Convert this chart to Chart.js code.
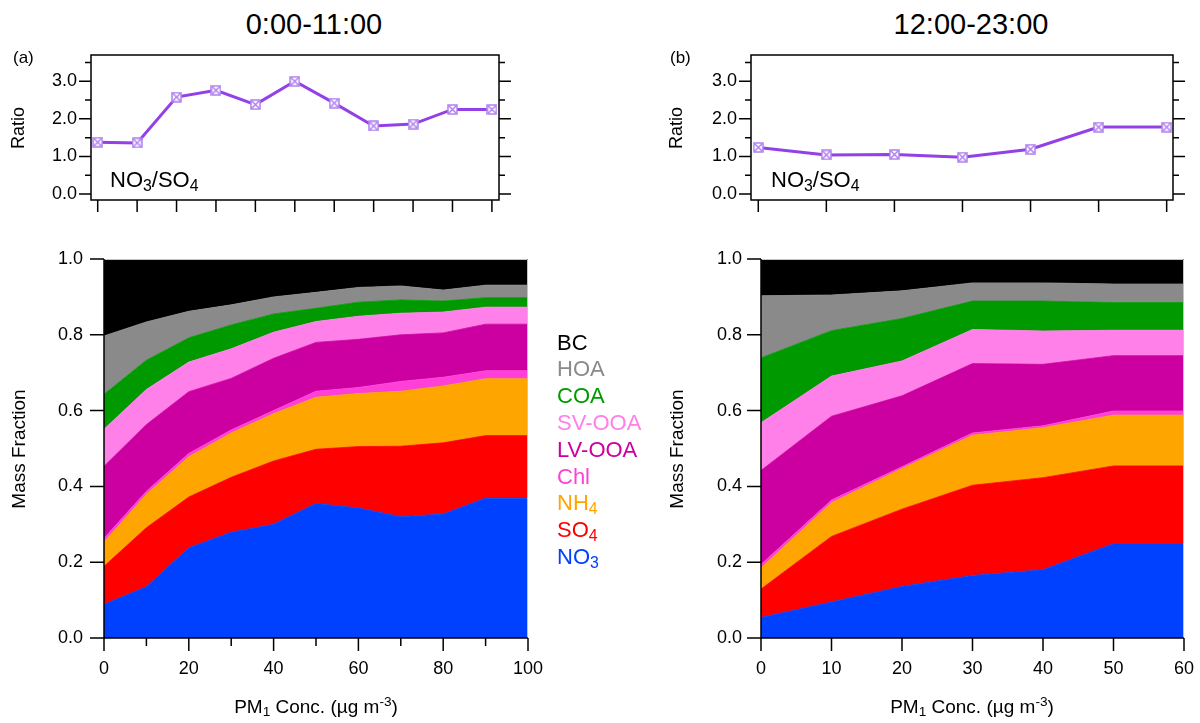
<!DOCTYPE html>
<html>
<head>
<meta charset="utf-8">
<script src="https://cdn.jsdelivr.net/npm/chart.js@4.4.1/dist/chart.umd.min.js"></script>
<style>
body { margin: 0; background: #fff; font-family: "Liberation Sans", Arial, sans-serif; }
#page { position: relative; width: 1200px; height: 723px; overflow: hidden; }
canvas { position: absolute; }
.t { position: absolute; white-space: nowrap; line-height: 1; color: #000; }
.c { transform: translate(-50%, -50%); }
.l { transform: translateY(-50%); }
.rot { transform: translate(-50%, -50%) rotate(-90deg); }
sub { font-size: 0.72em; vertical-align: -0.28em; line-height: 0; }
sup { font-size: 0.72em; vertical-align: 0.5em; line-height: 0; }
</style>
</head>
<body>
<div id="page">
  <canvas id="ratioA" width="560" height="180" style="left:0;top:40px"></canvas>
  <canvas id="ratioB" width="540" height="180" style="left:660px;top:40px"></canvas>
  <canvas id="fracA" width="560" height="493" style="left:0;top:230px"></canvas>
  <canvas id="fracB" width="540" height="493" style="left:660px;top:230px"></canvas>

  <div class="t c" style="left:314px;top:24px;font-size:29px">0:00-11:00</div>
  <div class="t c" style="left:971px;top:24px;font-size:29px">12:00-23:00</div>
  <div class="t l" style="left:13px;top:57px;font-size:17px">(a)</div>
  <div class="t l" style="left:670px;top:57px;font-size:17px">(b)</div>

  <div class="t rot" style="left:18px;top:128px;font-size:18px">Ratio</div>
  <div class="t rot" style="left:676px;top:128px;font-size:18px">Ratio</div>
  <div class="t rot" style="left:18px;top:449px;font-size:19px">Mass Fraction</div>
  <div class="t rot" style="left:676px;top:449px;font-size:19px">Mass Fraction</div>

  <div class="t l" style="left:110px;top:180px;font-size:22px">NO<sub>3</sub>/SO<sub>4</sub></div>
  <div class="t l" style="left:771px;top:180px;font-size:22px">NO<sub>3</sub>/SO<sub>4</sub></div>

  <div class="t c" style="left:316px;top:706px;font-size:19px">PM<sub>1</sub> Conc. (µg m<sup>-3</sup>)</div>
  <div class="t c" style="left:972px;top:706px;font-size:19px">PM<sub>1</sub> Conc. (µg m<sup>-3</sup>)</div>

  <div id="legend"></div>
</div>

<script>
// valori
const x_a = [0, 10, 20, 30, 40, 50, 60, 70, 80, 90, 100];
const x_b = [0, 10, 20, 30, 40, 50, 60];

const ratio_a = [1.38, 1.36, 2.58, 2.76, 2.38, 3.00, 2.42, 1.81, 1.86, 2.25, 2.25];
const ratio_b = [1.24, 1.04, 1.05, 0.98, 1.19, 1.78, 1.78];

// fractii masice (a) 0:00-11:00
const a_NO3 = [0.089, 0.135, 0.238, 0.279, 0.300, 0.355, 0.343, 0.320, 0.327, 0.369, 0.369];
const a_SO4 = [0.100, 0.156, 0.134, 0.145, 0.167, 0.143, 0.162, 0.186, 0.188, 0.165, 0.165];
const a_NH4 = [0.064, 0.088, 0.106, 0.117, 0.125, 0.137, 0.140, 0.145, 0.150, 0.150, 0.150];
const a_Chl = [0.010, 0.008, 0.009, 0.008, 0.008, 0.016, 0.016, 0.026, 0.023, 0.021, 0.021];
const a_LVOOA = [0.190, 0.176, 0.163, 0.136, 0.138, 0.129, 0.127, 0.123, 0.117, 0.123, 0.123];
const a_SVOOA = [0.098, 0.093, 0.078, 0.078, 0.069, 0.055, 0.061, 0.057, 0.055, 0.045, 0.045];
const a_COA = [0.092, 0.077, 0.064, 0.063, 0.048, 0.035, 0.037, 0.035, 0.029, 0.025, 0.025];
const a_HOA = [0.154, 0.101, 0.070, 0.053, 0.045, 0.042, 0.039, 0.037, 0.029, 0.033, 0.033];
const a_BC = [0.203, 0.166, 0.138, 0.121, 0.100, 0.088, 0.075, 0.071, 0.082, 0.069, 0.069];

// fractii masice (b) 12:00-23:00
const b_NO3 = [0.054, 0.095, 0.136, 0.165, 0.180, 0.249, 0.249];
const b_SO4 = [0.075, 0.173, 0.204, 0.238, 0.243, 0.205, 0.205];
const b_NH4 = [0.056, 0.089, 0.107, 0.132, 0.132, 0.134, 0.134];
const b_Chl = [0.009, 0.007, 0.005, 0.006, 0.005, 0.011, 0.011];
const b_LVOOA = [0.248, 0.221, 0.187, 0.183, 0.162, 0.146, 0.146];
const b_SVOOA = [0.126, 0.106, 0.092, 0.090, 0.088, 0.067, 0.067];
const b_COA = [0.171, 0.120, 0.112, 0.075, 0.079, 0.073, 0.073];
const b_HOA = [0.164, 0.094, 0.073, 0.048, 0.048, 0.049, 0.049];
const b_BC = [0.097, 0.095, 0.084, 0.063, 0.063, 0.066, 0.066];

// de jos in sus
const species = ['NO3', 'SO4', 'NH4', 'Chl', 'LV-OOA', 'SV-OOA', 'COA', 'HOA', 'BC'];
const speciesColors = ['#0040ff', '#ff0000', '#ffa500', '#ff40d8', '#cc00a0', '#ff80e8', '#009900', '#8a8a8a', '#000000'];
const legendLabels = ['BC', 'HOA', 'COA', 'SV-OOA', 'LV-OOA', 'Chl', 'NH<sub>4</sub>', 'SO<sub>4</sub>', 'NO<sub>3</sub>'];

// tick-uri
const ratioTicks = [0, 1, 2, 3];
const ratioMinor = [0.5, 1.5, 2.5, 3.5];
const fracTicks = [0, 0.2, 0.4, 0.6, 0.8, 1.0];
const xTicks_a = [0, 20, 40, 60, 80, 100];
const xMinor_a = [10, 30, 50, 70, 90];
const xTicks_b = [0, 10, 20, 30, 40, 50, 60];

const lineColor = '#9340e6';
const markerColor = '#b080f0';

Chart.defaults.font.family = '"Liberation Sans", Arial, sans-serif';
Chart.defaults.color = '#000';

// legenda
var legend = document.getElementById('legend');
legendLabels.forEach(function (lab, i) {
    var d = document.createElement('div');
    d.className = 't l';
    d.style.left = '557px';
    d.style.top = (342.5 + i * 26.8) + 'px';
    d.style.fontSize = '22px';
    d.style.color = speciesColors[species.length - 1 - i];
    d.innerHTML = lab;
    legend.appendChild(d);
});

// marker: patrat cu X
function boxMarker(size) {
    var c = document.createElement('canvas');
    c.width = size; c.height = size;
    var g = c.getContext('2d');
    g.fillStyle = '#fff';
    g.fillRect(1, 1, size - 2, size - 2);
    g.strokeStyle = markerColor;
    g.lineWidth = 1.5;
    g.strokeRect(1, 1, size - 2, size - 2);
    g.beginPath();
    g.moveTo(1.5, 1.5); g.lineTo(size - 1.5, size - 1.5);
    g.moveTo(size - 1.5, 1.5); g.lineTo(1.5, size - 1.5);
    g.stroke();
    return c;
}
const marker = boxMarker(11);

// axe, tick-uri si rama desenate peste date
const marks = {
    id: 'marks',
    afterDatasetsDraw(chart, args, o) {
        var c = chart.ctx, a = chart.chartArea, sx = chart.scales.x, sy = chart.scales.y;
        c.save();
        if (o.grayFrame) {
            c.strokeStyle = '#c4c4c4';
            c.lineWidth = 1;
            c.beginPath();
            c.moveTo(a.left, a.top + 0.5); c.lineTo(a.right - 0.5, a.top + 0.5); c.lineTo(a.right - 0.5, a.bottom);
            c.stroke();
        }
        c.strokeStyle = '#000';
        c.lineWidth = 1.5;
        c.beginPath();
        if (o.box) {
            c.rect(a.left, a.top, a.right - a.left, a.bottom - a.top);
        } else {
            c.moveTo(a.left, a.top); c.lineTo(a.left, a.bottom); c.lineTo(a.right, a.bottom);
        }
        (o.bottom || []).forEach(function (t) {
            t[0].forEach(function (v) {
                var p = sx.getPixelForValue(v);
                c.moveTo(p, a.bottom); c.lineTo(p, a.bottom + t[1]);
            });
        });
        (o.left || []).forEach(function (t) {
            t[0].forEach(function (v) {
                var p = sy.getPixelForValue(v);
                c.moveTo(a.left, p); c.lineTo(a.left - t[1], p);
            });
        });
        (o.right || []).forEach(function (t) {
            t[0].forEach(function (v) {
                var p = sy.getPixelForValue(v);
                c.moveTo(a.right, p); c.lineTo(a.right + t[1], p);
            });
        });
        c.stroke();
        c.restore();
    }
};

function setTicks(values) {
    return function (s) { s.ticks = values.map(function (v) { return { value: v }; }); };
}

// latime/inaltime fixa a axelor, fara padding automat
function fixY(w) {
    return function (s) { s.width = w; s.paddingTop = 0; s.paddingBottom = 0; };
}
function fixX(h) {
    return function (s) { s.height = h; s.paddingLeft = 0; s.paddingRight = 0; };
}

function ratioChart(id, xs, vals, xmin, xmax, yWidth, padRight) {
    return new Chart(document.getElementById(id), {
        type: 'line',
        data: {
            datasets: [{
                data: xs.map(function (x, i) { return { x: x, y: vals[i] }; }),
                borderColor: lineColor,
                borderWidth: 3,
                pointStyle: marker,
                pointRadius: 5,
                tension: 0
            }]
        },
        options: {
            responsive: false,
            animation: false,
            devicePixelRatio: 1,
            layout: { padding: { top: 15, right: padRight, left: 0, bottom: 0 } },
            plugins: {
                legend: { display: false },
                tooltip: { enabled: false },
                marks: {
                    box: true,
                    bottom: [[xs, 12]],
                    left: [[ratioTicks, 12], [ratioMinor, 6]],
                    right: [[ratioTicks, 12], [ratioMinor, 6]]
                }
            },
            scales: {
                x: {
                    type: 'linear', min: xmin, max: xmax,
                    grid: { display: false, drawTicks: false },
                    border: { display: false },
                    ticks: { display: false },
                    afterFit: fixX(20)
                },
                y: {
                    min: -0.16, max: 3.7,
                    afterBuildTicks: setTicks(ratioTicks),
                    grid: { display: false, drawTicks: false },
                    border: { display: false },
                    ticks: { padding: 14, font: { size: 18 }, callback: function (v) { return v.toFixed(1); } },
                    afterFit: fixY(yWidth)
                }
            }
        },
        plugins: [marks]
    });
}

function fracChart(id, xs, series, xTicks, xMinor, yWidth, padRight, yPad) {
    return new Chart(document.getElementById(id), {
        type: 'line',
        data: {
            datasets: series.map(function (vals, k) {
                return {
                    label: species[k],
                    data: xs.map(function (x, i) { return { x: x, y: vals[i] }; }),
                    backgroundColor: speciesColors[k],
                    borderColor: speciesColors[k],
                    borderWidth: 0.8,
                    pointRadius: 0,
                    tension: 0,
                    fill: k === 0 ? 'origin' : '-1'
                };
            })
        },
        options: {
            responsive: false,
            animation: false,
            devicePixelRatio: 1,
            layout: { padding: { top: 29, right: padRight, left: 0, bottom: 0 } },
            plugins: {
                legend: { display: false },
                tooltip: { enabled: false },
                marks: {
                    grayFrame: true,
                    bottom: [[xTicks, 13], [xMinor, 8]],
                    left: [[fracTicks, 14]]
                }
            },
            scales: {
                x: {
                    type: 'linear', min: xs[0], max: xs[xs.length - 1],
                    afterBuildTicks: setTicks(xTicks),
                    grid: { display: false, drawTicks: false },
                    border: { display: false },
                    ticks: { padding: 20, font: { size: 18 }, maxRotation: 0 },
                    afterFit: fixX(85)
                },
                y: {
                    stacked: true,
                    min: 0, max: 1,
                    afterBuildTicks: setTicks(fracTicks),
                    grid: { display: false, drawTicks: false },
                    border: { display: false },
                    ticks: { padding: yPad, font: { size: 18 }, callback: function (v) { return v.toFixed(1); } },
                    afterFit: fixY(yWidth)
                }
            }
        },
        plugins: [marks]
    });
}

ratioChart('ratioA', x_a, ratio_a, -1.7, 101.8, 91, 61);
ratioChart('ratioB', x_b, ratio_b, -1.07, 60.93, 91, 27);

fracChart('fracA', x_a, [a_NO3, a_SO4, a_NH4, a_Chl, a_LVOOA, a_SVOOA, a_COA, a_HOA, a_BC], xTicks_a, xMinor_a, 104, 32, 21);
fracChart('fracB', x_b, [b_NO3, b_SO4, b_NH4, b_Chl, b_LVOOA, b_SVOOA, b_COA, b_HOA, b_BC], xTicks_b, [], 101, 16, 19);
</script>
</body>
</html>
